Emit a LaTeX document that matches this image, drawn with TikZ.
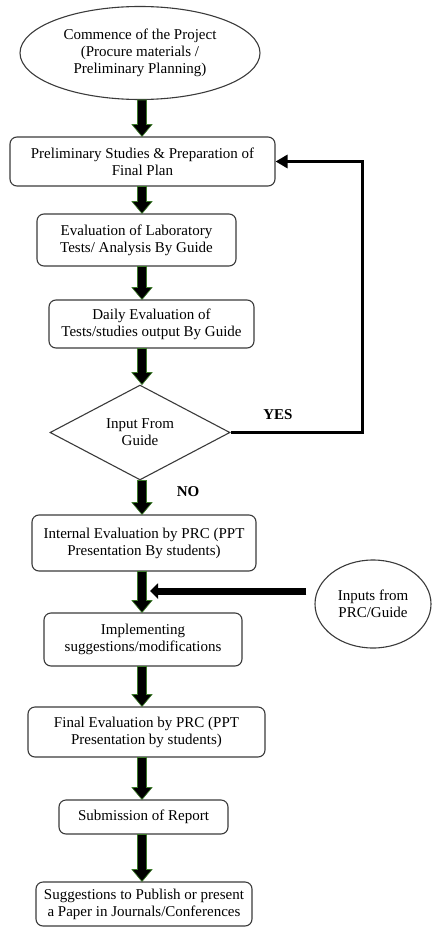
\documentclass[tikz,border=0pt]{standalone}
\usepackage{fontspec}
\setmainfont{Liberation Serif}
\usetikzlibrary{arrows.meta,calc,shapes.geometric}
\definecolor{edgegray}{HTML}{3A3A3A}
\definecolor{arrowgreen}{HTML}{3C7A2A}
\tikzset{
 box/.style={draw=edgegray,line width=1.1pt,rounded corners=7pt,align=center,inner sep=2pt},
 oval/.style={ellipse,draw=edgegray,line width=1.1pt,align=center,inner sep=0pt},
 decide/.style={diamond,draw=edgegray,line width=1.1pt,align=center,inner sep=0pt},
 backline/.style={line width=3.6pt,-{Triangle[length=12pt,width=13pt]}},
 feedline/.style={line width=7pt,-{Triangle[length=8pt,width=15pt]}}
}
% thick black arrow with a thin green rim, from node #1 down to node #2
\newcommand{\blockdown}[2]{\filldraw[fill=black,draw=arrowgreen,line width=.7pt] let \p1=(axis |- #1.south),\p2=(axis |- #2.north) in
 (\x1-4.5pt,\y1)--(\x1-4.5pt,\y2+12pt)--(\x1-10pt,\y2+12pt)--(\x1,\y2)--(\x1+10pt,\y2+12pt)--(\x1+4.5pt,\y2+12pt)--(\x1+4.5pt,\y1)--cycle;}
\begin{document}
\begin{tikzpicture}[x=1pt,y=-1pt,font=\fontsize{15pt}{17pt}\selectfont]
 \useasboundingbox (0,0) rectangle (431,928);
 \coordinate (axis) at (142,0);
 \node[oval,minimum width=240pt,minimum height=93pt] (start) at (140,53) {Commence of the Project\\(Procure materials /\\Preliminary Planning)};
 \node[box,minimum width=265pt,minimum height=49pt] (prelim) at (142.5,161.5) {Preliminary Studies \& Preparation of\\Final Plan};
 \node[box,minimum width=199pt,minimum height=52pt] (labtest) at (136.5,240) {Evaluation of Laboratory\\Tests/ Analysis By Guide};
 \node[box,minimum width=205pt,minimum height=48pt] (daily) at (151.5,324) {Daily Evaluation of\\Tests/studies output By Guide};
 \node[decide,minimum width=180pt,minimum height=87pt] (guide) at (140,432.5) {Input From\\Guide};
 \node[box,minimum width=224pt,minimum height=56pt] (internal) at (144,543) {Internal Evaluation by PRC (PPT\\Presentation By students)};
 \node[oval,minimum width=116pt,minimum height=88pt] (inputs) at (373,604) {Inputs from\\PRC/Guide};
 \node[box,minimum width=198pt,minimum height=53pt] (implement) at (143,639.5) {Implementing\\suggestions/modifications};
 \node[box,minimum width=237pt,minimum height=50pt] (final) at (146.5,732) {Final Evaluation by PRC (PPT\\Presentation by students)};
 \node[box,minimum width=169pt,minimum height=34pt] (report) at (143.5,817) {Submission of Report};
 \node[box,minimum width=216pt,minimum height=44pt] (publish) at (144,904) {Suggestions to Publish or present\\a Paper in Journals/Conferences};
 \blockdown{start}{prelim} \blockdown{prelim}{labtest} \blockdown{labtest}{daily} \blockdown{daily}{guide}
 \blockdown{guide}{internal} \blockdown{internal}{implement} \blockdown{implement}{final}
 \blockdown{final}{report} \blockdown{report}{publish}
 \draw[backline] (guide.east) -- ++(132,0) |- (prelim.east);
 \node[font=\fontsize{15pt}{17pt}\selectfont\bfseries] (yes) at (278,415) {YES};
 \node[font=\fontsize{15pt}{17pt}\selectfont\bfseries] (no) at (188,492) {NO};
 \coordinate (join) at (150,591);
 \draw[feedline] ([xshift=-8pt,yshift=13pt]inputs.west) -- (join);
\end{tikzpicture}
\end{document}
